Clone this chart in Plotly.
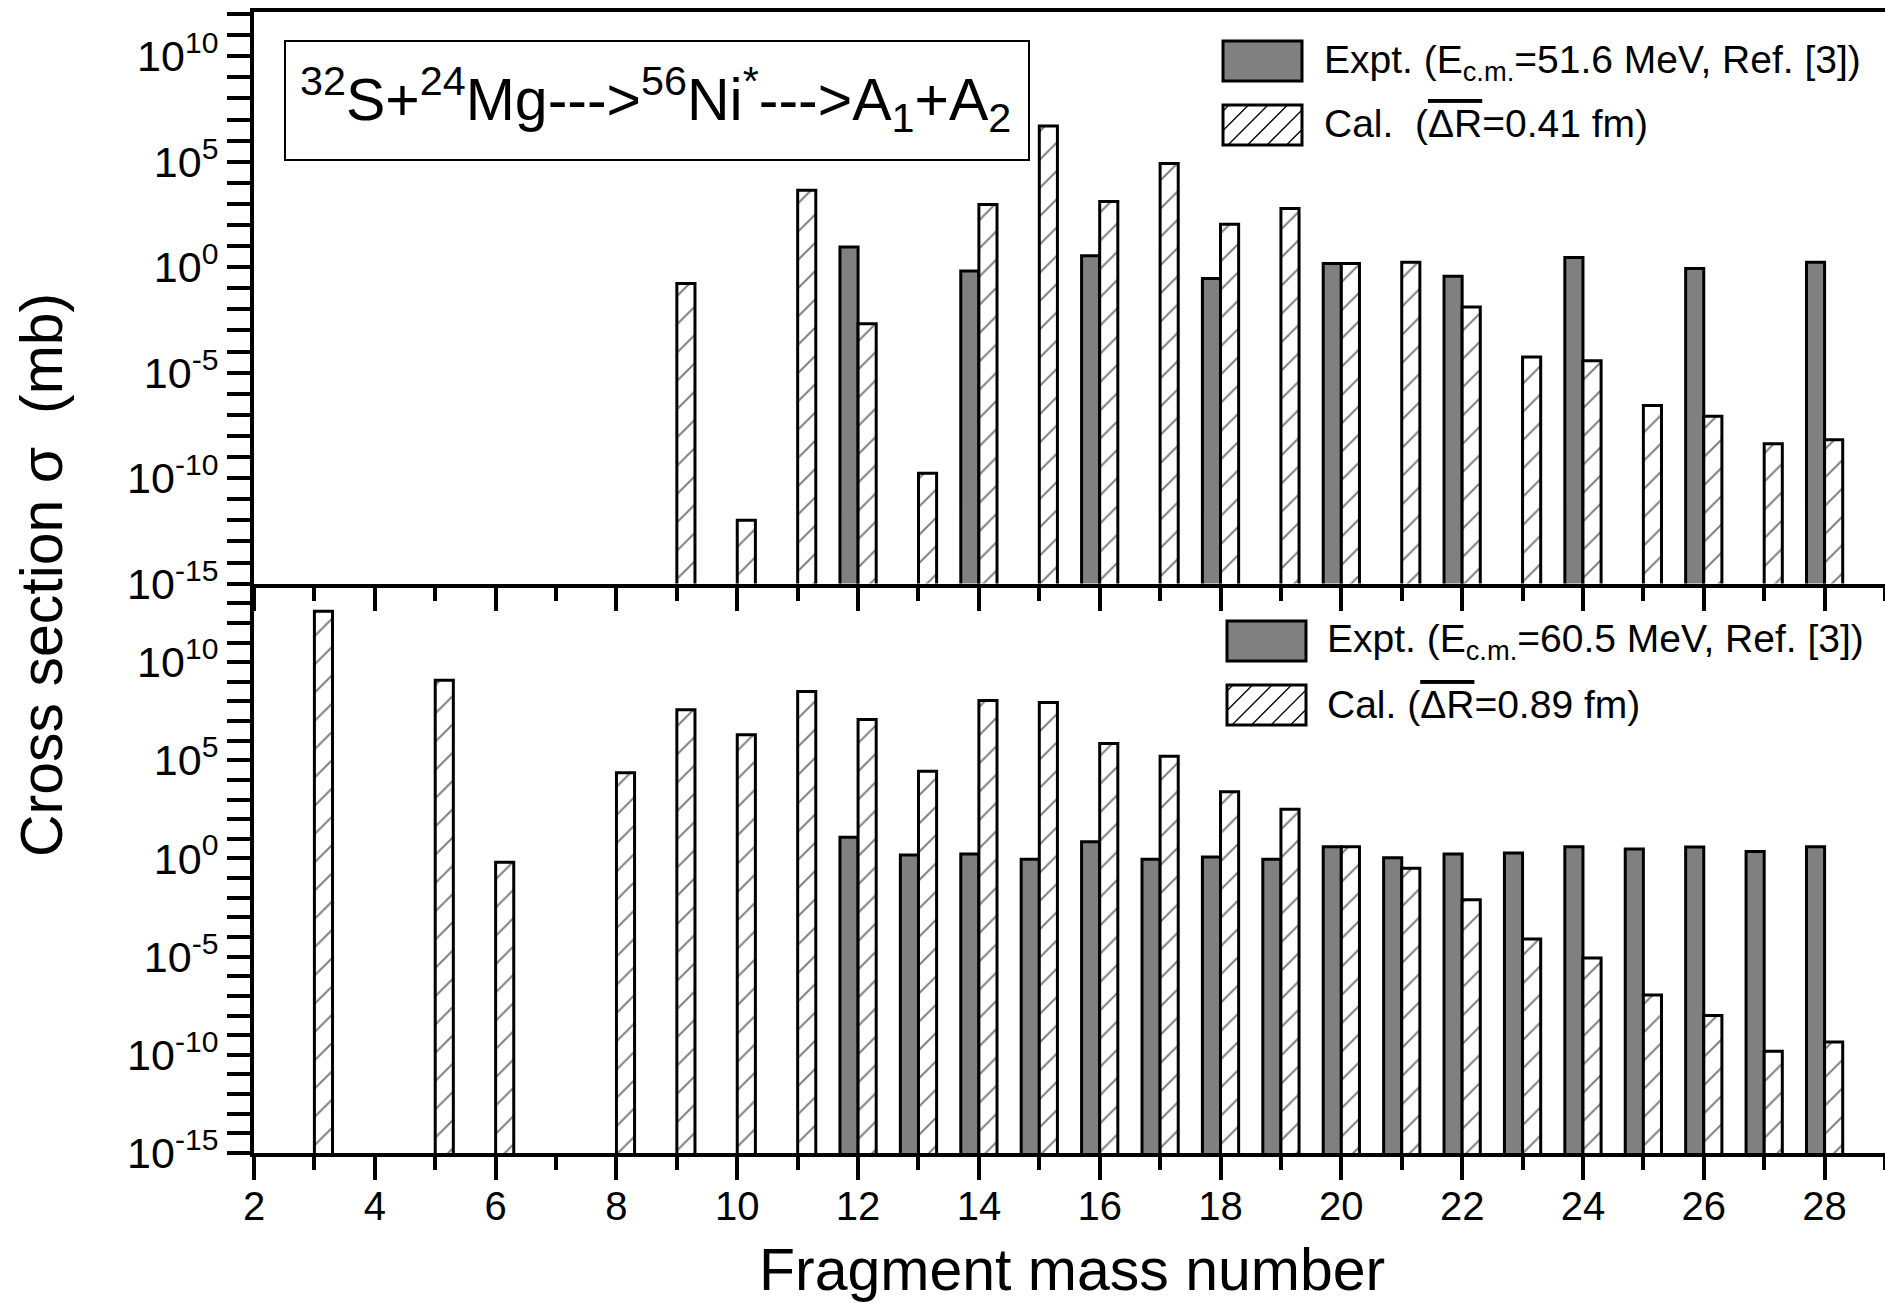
import plotly.graph_objects as go

# ---------------- data ----------------
# upper panel : E_cm = 51.6 MeV
top_expt_A = [12, 14, 16, 18, 20, 22, 24, 26, 28]
top_expt_sigma = [9.1, 0.66, 3.5, 0.29, 1.5, 0.37, 2.9, 0.87, 1.7]

top_cal_A = [9, 10, 11, 12, 13, 14, 15, 16, 17, 18, 19, 20, 21, 22, 23, 24, 25, 26, 27, 28]
top_cal_sigma = [1.7e-1, 1.0e-12, 4.5e3, 2.1e-3, 1.7e-10, 9.3e2, 4.9e6, 1.3e3, 8.3e4, 1.1e2,
                 6.0e2, 1.5, 1.7, 1.3e-2, 5.5e-5, 3.7e-5, 2.8e-7, 8.5e-8, 4.3e-9, 6.6e-9]

# lower panel : E_cm = 60.5 MeV
bot_expt_A = [12, 13, 14, 15, 16, 17, 18, 19, 20, 21, 22, 23, 24, 25, 26, 27, 28]
bot_expt_sigma = [12.0, 1.5, 1.7, 0.91, 7.1, 0.91, 1.2, 0.91, 4.0, 1.1, 1.7, 1.9, 4.0, 3.0, 3.8, 2.3, 4.0]

bot_cal_A = [3, 5, 6, 8, 9, 10, 11, 12, 13, 14, 15, 16, 17, 18, 19, 20, 21, 22, 23, 24, 25, 26, 27, 28]
bot_cal_sigma = [3.9e12, 1.2e9, 0.65, 2.3e4, 3.8e7, 2.0e6, 3.2e8, 1.2e7, 2.8e4, 1.1e8, 8.7e7, 7.2e5,
                 1.6e5, 2.5e3, 3.2e2, 4.0, 0.32, 7.8e-3, 7.9e-5, 8.5e-6, 1.1e-7, 1.0e-8, 1.5e-10, 4.5e-10]

x_ticks = [2, 4, 6, 8, 10, 12, 14, 16, 18, 20, 22, 24, 26, 28]
top_major = [-15, -10, -5, 0, 5, 10]
bot_major = [-15, -10, -5, 0, 5, 10]
top_decades = list(range(-15, 13))
bot_decades = list(range(-15, 15))

top_legend = ["Expt. (E<sub>c.m.</sub>=51.6 MeV, Ref. [3])",
              "Cal.\u00a0\u00a0(<span style='text-decoration:overline'>\u0394R</span>=0.41 fm)"]
bot_legend = ["Expt. (E<sub>c.m.</sub>=60.5 MeV, Ref. [3])",
              "Cal. (<span style='text-decoration:overline'>\u0394R</span>=0.89 fm)"]
title_text = ("<sup>32</sup>S+<sup>24</sup>Mg--->"
              "<sup>56</sup>Ni<sup>*</sup>--->A<sub>1</sub>+A<sub>2</sub>")

# ---------------- geometry ----------------
W, H = 1885, 1303
L, R, T, B = 254, 0, 12, 150
PW = W - L - R
PH = H - T - B
SPLIT = 583.6
FONT = "Liberation Sans, Arial, Helvetica, sans-serif"


def px(x, y):
    return (x - L) / PW, (H - B - y) / PH


split_frac = (H - B - SPLIT) / PH

GRAY = "#808080"
hatch = dict(shape="/", fgcolor="black", bgcolor="white", size=20, solidity=0.1)

fig = go.Figure()
fig.add_trace(go.Bar(x=top_expt_A, y=top_expt_sigma, xaxis="x2", yaxis="y2",
                     marker=dict(color=GRAY, line=dict(color="black", width=3)),
                     showlegend=False))
fig.add_trace(go.Bar(x=top_cal_A, y=top_cal_sigma, xaxis="x2", yaxis="y2",
                     marker=dict(color="white", pattern=hatch, line=dict(color="black", width=3)),
                     showlegend=False))
fig.add_trace(go.Bar(x=bot_expt_A, y=bot_expt_sigma, xaxis="x", yaxis="y",
                     marker=dict(color=GRAY, line=dict(color="black", width=3)),
                     showlegend=False))
fig.add_trace(go.Bar(x=bot_cal_A, y=bot_cal_sigma, xaxis="x", yaxis="y",
                     marker=dict(color="white", pattern=hatch, line=dict(color="black", width=3)),
                     showlegend=False))

xcommon = dict(range=[2, 29], tickmode="array", tickvals=x_ticks, ticktext=[str(v) for v in x_ticks],
               ticks="outside", ticklen=23, tickwidth=4, tickcolor="black",
               minor=dict(ticks="outside", ticklen=13, tickwidth=4, tickcolor="black",
                          tickmode="linear", tick0=2, dtick=1, showgrid=False),
               showline=True, linewidth=4, linecolor="black", showgrid=False, zeroline=False,
               tickfont=dict(size=40, family=FONT, color="black"))

ycommon = dict(type="log", ticks="outside", ticklen=23, tickwidth=4, tickcolor="black",
               showline=True, linewidth=4, linecolor="black", showgrid=False, zeroline=False,
               tickfont=dict(size=43, family=FONT, color="black"), tickmode="array")

fig.update_layout(
    width=W, height=H,
    margin=dict(l=L, r=R, t=T, b=B, pad=0),
    paper_bgcolor="white", plot_bgcolor="white",
    barmode="group", bargap=0.4, bargroupgap=0,
    font=dict(family=FONT, color="black"),
    xaxis=dict(anchor="y", domain=[0, 1], ticklabelstandoff=-8, **xcommon),
    xaxis2=dict(anchor="y2", domain=[0, 1], showticklabels=False, mirror=True, **xcommon),
    yaxis=dict(anchor="x", domain=[0, split_frac], range=[-15, 14],
               tickvals=[10.0 ** d for d in bot_major],
               ticktext=["10<sup>%d</sup>" % d for d in bot_major],
               minor=dict(ticks="outside", ticklen=23, tickwidth=4, tickcolor="black",
                          tickmode="array", tickvals=[10.0 ** d for d in bot_decades], showgrid=False),
               **ycommon),
    yaxis2=dict(anchor="x2", domain=[split_frac, 1], range=[-15, 12.1],
                tickvals=[10.0 ** d for d in top_major],
                ticktext=["10<sup>%d</sup>" % d for d in top_major],
                minor=dict(ticks="outside", ticklen=23, tickwidth=4, tickcolor="black",
                           tickmode="array", tickvals=[10.0 ** d for d in top_decades], showgrid=False),
                **ycommon),
)

shapes = []
annotations = []


def rect(x0, y0, x1, y1, fill, lw=3):
    a0, b0 = px(x0, y1)
    a1, b1 = px(x1, y0)
    shapes.append(dict(type="rect", xref="paper", yref="paper", x0=a0, y0=b0, x1=a1, y1=b1,
                       line=dict(color="black", width=lw), fillcolor=fill, layer="above"))


def hatch_lines(x0, y0, x1, y1, step=19.5):
    h = y1 - y0
    parts = []
    c = x0 - h + 6
    while c < x1:
        t0 = max(0.0, (x0 - c) / h)
        t1 = min(1.0, (x1 - c) / h)
        if t1 > t0:
            ax, ay = px(c + t0 * h, y1 - t0 * h)
            bx, by = px(c + t1 * h, y1 - t1 * h)
            parts.append("M%.6f,%.6f L%.6f,%.6f" % (ax, ay, bx, by))
        c += step
    shapes.append(dict(type="path", xref="paper", yref="paper", path=" ".join(parts),
                       line=dict(color="black", width=1.3), layer="above"))


def text(x, y, s, size, xanchor="left", yanchor="middle", angle=0):
    a, b = px(x, y)
    annotations.append(dict(x=a, y=b, xref="paper", yref="paper", text=s, showarrow=False,
                            xanchor=xanchor, yanchor=yanchor, textangle=angle,
                            font=dict(size=size, family=FONT, color="black")))


# title box
rect(285, 41, 1029, 160, "white", lw=2)
text(655, 99, title_text, 59, xanchor="center")

# legend upper panel
rect(1223, 41, 1302, 81, GRAY)
rect(1223, 105, 1302, 145, "white")
hatch_lines(1223, 105, 1302, 145)
text(1322, 62, top_legend[0], 39)
text(1322, 124, top_legend[1], 39)

# legend lower panel
rect(1227, 621, 1306, 661, GRAY)
rect(1227, 685, 1306, 725, "white")
hatch_lines(1227, 685, 1306, 725)
text(1325, 642, bot_legend[0], 39)
text(1325, 704, bot_legend[1], 39)

# axis titles
text(42, 575, "Cross section \u03c3\u00a0\u00a0(mb)", 59, xanchor="center", angle=-90)
text(1072, 1270, "Fragment mass number", 59, xanchor="center")

fig.update_layout(shapes=shapes, annotations=annotations)
fig.write_html("out.html", config={"displayModeBar": False},
               post_script="document.body.style.margin='0px';")
